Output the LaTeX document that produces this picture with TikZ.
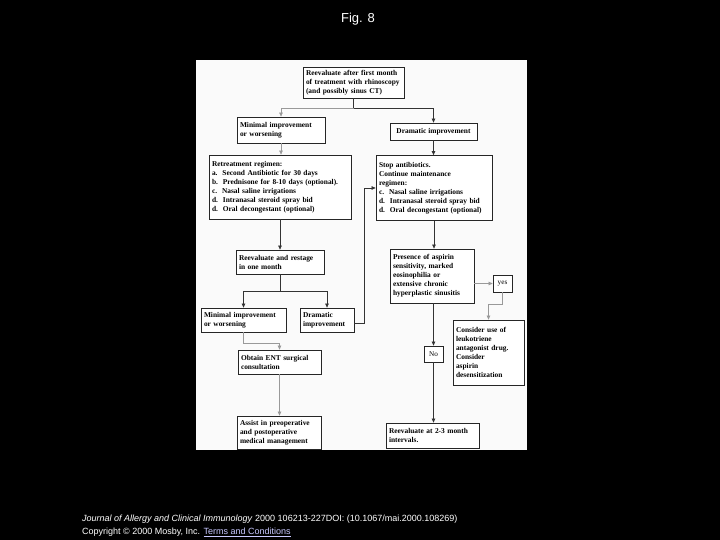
\documentclass[tikz,border=0pt]{standalone}
\usepackage{fontspec}
\setmainfont{Liberation Serif}
\newfontfamily\capfont{Liberation Sans}
\usetikzlibrary{arrows.meta}
\definecolor{panel}{RGB}{250,250,250}
\definecolor{linkcol}{RGB}{200,200,255}
\tikzset{
  box/.style={draw=black!85, line width=0.8pt, fill=white, align=left, inner xsep=3pt, inner ysep=0pt,
    font=\bfseries\fontsize{7.4}{9}\selectfont},
  smallbox/.style={draw=black!85, line width=0.8pt, fill=white, align=center, inner sep=0pt,
    font=\fontsize{7.2}{9}\selectfont},
  conn/.style={draw=black!80, line width=0.7pt},
  connl/.style={draw=black!40, line width=0.7pt},
  arr/.style={-{Triangle[length=4pt,width=3.6pt]}},
}
\begin{document}
\begin{tikzpicture}[x=1pt,y=-1pt]
\fill[black] (0,0) rectangle (720,540);
\useasboundingbox (0,0) rectangle (720,540);
\fill[panel] (196,60) rectangle (527,450);
\node[text=white, font=\capfont\fontsize{13}{15}\selectfont] (title) at (358,19) {Fig. 8};

% boxes
\node[box, minimum width=101pt, minimum height=31pt, text width=95pt] (top) at (353.5,82.5)
  {Reevaluate after first month\\ of treatment with rhinoscopy\\ (and possibly sinus CT)};
\node[box, minimum width=88pt, minimum height=26pt, text width=82pt] (min1) at (281,130)
  {Minimal improvement\\ or worsening};
\node[box, minimum width=87pt, minimum height=17pt, align=center] (dram1) at (433.5,131.5)
  {Dramatic improvement};
\node[box, minimum width=142pt, minimum height=64pt, text width=136pt] (retreat) at (280,187)
  {Retreatment regimen:\\
   a.\ \ Second Antibiotic for 30 days\\
   b.\ \ Prednisone for 8-10 days (optional).\\
   c.\ \ Nasal saline irrigations\\
   d.\ \ Intranasal steroid spray bid\\
   d.\ \ Oral decongestant (optional)};
\node[box, minimum width=116pt, minimum height=65pt, text width=110pt] (stop) at (434,188)
  {Stop antibiotics.\\
   Continue maintenance\\
   regimen:\\
   c.\ \ Nasal saline irrigations\\
   d.\ \ Intranasal steroid spray bid\\
   d.\ \ Oral decongestant (optional)};
\node[box, minimum width=88pt, minimum height=24pt, text width=82pt] (reeval) at (280,262)
  {Reevaluate and restage\\ in one month};
\node[box, minimum width=84pt, minimum height=54pt, text width=78pt] (presence) at (432,276)
  {Presence of aspirin\\ sensitivity, marked\\ eosinophilia or\\ extensive chronic\\ hyperplastic sinusitis};
\node[smallbox, minimum width=19pt, minimum height=17pt] (yes) at (502.5,283.5) {yes};
\node[box, minimum width=85pt, minimum height=24pt, text width=79pt] (min2) at (243.5,320)
  {Minimal improvement\\ or worsening};
\node[box, minimum width=54pt, minimum height=24pt, text width=48pt] (dram2) at (327,320)
  {Dramatic\\ improvement};
\node[smallbox, minimum width=19pt, minimum height=16pt] (no) at (433.5,354) {No};
\node[box, minimum width=71pt, minimum height=65pt, text width=65pt] (consider) at (488.5,352.5)
  {Consider use of\\ leukotriene\\ antagonist drug.\\ Consider\\ aspirin\\ desensitization};
\node[box, minimum width=83pt, minimum height=24pt, text width=77pt] (obtain) at (279.5,362)
  {Obtain ENT surgical\\ consultation};
\node[box, minimum width=84pt, minimum height=33pt, text width=78pt] (assist) at (279,432.5)
  {Assist in preoperative\\ and postoperative\\ medical management};
\node[box, minimum width=93pt, minimum height=25pt, text width=87pt] (reeval23) at (432.5,435.5)
  {Reevaluate at 2-3 month\\ intervals.};

% connectors
\draw[conn] (top.south) -- ++(0,10) coordinate (j1);
\draw[connl,arr] (j1) -| (min1.north);
\draw[conn,arr] (j1) -| (dram1.north);
\draw[connl,arr] (min1.south) -- (min1.south |- retreat.north);
\draw[conn,arr] (dram1.south) -- (dram1.south |- stop.north);
\draw[conn,arr] (retreat.south) -- (retreat.south |- reeval.north);
\draw[conn] (reeval.south) -- ++(0,17) coordinate (j2);
\draw[conn,arr] (j2) -| (min2.north);
\draw[conn,arr] (j2) -| (dram2.north);
\draw[connl,arr] (min2.south) -- ++(0,11) -| (obtain.north);
\draw[connl,arr] (obtain.south) -- (obtain.south |- assist.north);
\draw[conn,arr] ([yshift=-3pt]dram2.east) -- ++(10,0) |- (stop.west);
\draw[conn,arr] (stop.south) -- (stop.south |- presence.north);
\draw[connl,arr] (presence.east |- yes.west) -- (yes.west);
\draw[connl,arr] (yes.south) -- ++(0,12) -| (consider.north);
\draw[conn,arr] (no.north |- presence.south) -- (no.north);
\draw[conn,arr] (no.south) -- (no.south |- reeval23.north);

% caption
\node[anchor=west, text=white, font=\capfont\fontsize{9}{10}\selectfont, inner sep=0pt] (cap1) at (82,519)
  {\textit{Journal of Allergy and Clinical Immunology} 2000 106213-227DOI: (10.1067/mai.2000.108269)};
\node[anchor=west, text=white, font=\capfont\fontsize{9}{10}\selectfont, inner sep=0pt] (cap2) at (82,532)
  {Copyright © 2000 Mosby, Inc. \textcolor{linkcol}{\underline{Terms and Conditions}}};
\end{tikzpicture}
\end{document}
